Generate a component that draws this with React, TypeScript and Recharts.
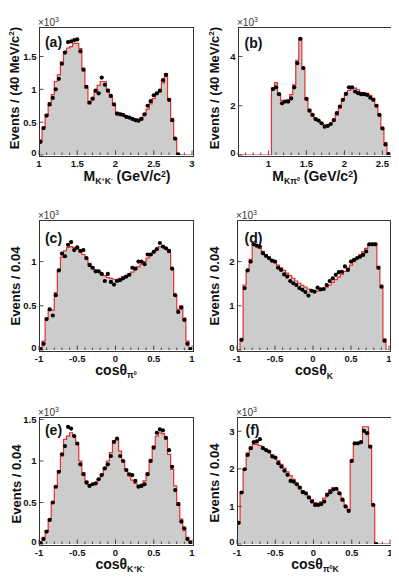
import React from "react";
import { ComposedChart, Area, Scatter, XAxis, YAxis } from "recharts";

// all values in units of 10^3 events, 0.04 wide bins
// (a) M(K+K-), bins from 1.00 GeV/c2
const fitA = [0.23, 0.42, 0.62, 0.8, 0.92, 1.12, 1.22, 1.42, 1.58, 1.63, 1.65, 1.7, 1.7, 1.62, 1.32, 1.02, 0.78, 0.84, 0.98, 1.06, 1.12, 1.12, 1.0, 0.88, 0.78, 0.65, 0.64, 0.62, 0.6, 0.58, 0.56, 0.54, 0.55, 0.57, 0.62, 0.7, 0.78, 0.86, 0.93, 0.96, 1.1, 1.24, 0.86, 0.56, 0.25];
const dataA = [0.2, 0.41, 0.6, 0.77, 0.87, 1.0, 1.16, 1.39, 1.56, 1.72, 1.73, 1.75, 1.76, 1.58, 1.3, 1.04, 0.8, 0.86, 0.98, 0.94, 1.18, 1.07, 0.98, 0.9, 0.77, 0.63, 0.62, 0.61, 0.58, 0.57, 0.55, 0.53, 0.52, 0.55, 0.62, 0.75, 0.82, 0.91, 0.94, 0.98, 1.14, 1.22, 0.84, 0.53, 0.25, 0.01];

// (b) M(K pi0), bins from 1.04 GeV/c2
const fitB = [2.72, 2.94, 2.45, 2.22, 2.2, 2.25, 2.45, 2.85, 3.85, 4.72, 3.5, 2.3, 1.85, 1.65, 1.5, 1.38, 1.3, 1.22, 1.2, 1.25, 1.38, 1.62, 1.9, 2.22, 2.48, 2.62, 2.7, 2.72, 2.65, 2.55, 2.52, 2.5, 2.42, 2.3, 2.05, 1.65, 1.1, 0.5, 0.08];
const dataB = [2.68, 2.75, 2.47, 2.1, 2.17, 2.17, 2.3, 2.75, 3.73, 4.72, 3.53, 2.28, 1.8, 1.63, 1.46, 1.4, 1.29, 1.15, 1.18, 1.26, 1.42, 1.7, 1.97, 2.24, 2.48, 2.75, 2.75, 2.58, 2.51, 2.47, 2.47, 2.44, 2.33, 2.24, 2.0, 1.63, 1.08, 0.43, 0.04];

// (c) cos theta pi0, bins from -1
const fitC = [0.02, 0.1, 0.36, 0.45, 0.45, 0.65, 0.9, 1.05, 1.12, 1.16, 1.17, 1.16, 1.14, 1.12, 1.08, 1.03, 0.98, 0.94, 0.91, 0.88, 0.86, 0.84, 0.82, 0.81, 0.8, 0.8, 0.81, 0.83, 0.84, 0.86, 0.88, 0.91, 0.94, 0.97, 1.0, 1.04, 1.07, 1.1, 1.14, 1.17, 1.17, 1.15, 1.1, 0.92, 0.62, 0.46, 0.5, 0.36, 0.1, 0.02];
const dataC = [0.01, 0.07, 0.35, 0.46, 0.39, 0.62, 0.9, 1.09, 1.06, 1.19, 1.22, 1.13, 1.16, 1.12, 1.13, 1.04, 0.96, 0.93, 0.89, 0.89, 0.86, 0.78, 0.86, 0.77, 0.74, 0.78, 0.79, 0.81, 0.83, 0.85, 0.93, 0.92, 1.0, 1.0, 0.97, 1.08, 1.08, 1.11, 1.14, 1.21, 1.17, 1.15, 1.12, 0.92, 0.62, 0.43, 0.48, 0.34, 0.07, 0.01];

// (d) cos theta K, fit from -1, points from -0.96
const fitD = [0, 0.25, 1.47, 1.8, 2.05, 2.4, 2.38, 2.3, 2.23, 2.16, 2.1, 2.04, 1.98, 1.92, 1.86, 1.8, 1.74, 1.68, 1.62, 1.56, 1.51, 1.46, 1.42, 1.38, 1.35, 1.33, 1.33, 1.35, 1.38, 1.42, 1.47, 1.53, 1.59, 1.65, 1.71, 1.78, 1.85, 1.92, 2.0, 2.07, 2.15, 2.22, 2.3, 2.38, 2.42, 2.42, 1.89, 1.47, 0.25, 0];
const dataD = [0.23, 1.4, 1.8, 2.0, 2.39, 2.36, 2.34, 2.19, 2.13, 2.08, 2.02, 2.0, 1.86, 1.81, 1.71, 1.66, 1.56, 1.51, 1.47, 1.4, 1.36, 1.31, 1.23, 1.34, 1.32, 1.41, 1.37, 1.38, 1.47, 1.56, 1.62, 1.7, 1.76, 1.77, 1.89, 1.81, 2.0, 2.04, 2.08, 2.11, 2.15, 2.23, 2.39, 2.39, 2.39, 1.86, 1.43, 0.21];

// (e) cos theta K+K-, bins from -1
const fitE = [0.02, 0.08, 0.16, 0.3, 0.5, 0.7, 0.88, 1.06, 1.26, 1.3, 1.34, 1.3, 1.2, 1.0, 0.86, 0.76, 0.71, 0.72, 0.74, 0.78, 0.84, 0.92, 1.0, 1.1, 1.24, 1.26, 1.12, 1.0, 0.9, 0.82, 0.77, 0.73, 0.71, 0.72, 0.76, 0.86, 1.02, 1.18, 1.3, 1.34, 1.33, 1.26, 1.08, 0.9, 0.7, 0.5, 0.3, 0.16, 0.08, 0.02];
const dataE = [0.01, 0.06, 0.15, 0.29, 0.5, 0.69, 0.87, 1.08, 1.18, 1.41, 1.39, 1.3, 1.21, 0.96, 0.84, 0.74, 0.7, 0.72, 0.73, 0.78, 0.83, 0.91, 0.96, 1.06, 1.23, 1.27, 1.06, 1.0, 0.89, 0.84, 0.83, 0.76, 0.69, 0.7, 0.72, 0.84, 1.0, 1.16, 1.34, 1.38, 1.37, 1.28, 1.13, 0.93, 0.65, 0.48, 0.27, 0.19, 0.06, 0.02];

// (f) cos theta pi0 K, bins from -1
const fitF = [0.55, 1.38, 2.0, 2.42, 2.58, 2.65, 2.65, 2.62, 2.55, 2.5, 2.44, 2.37, 2.3, 2.22, 2.12, 2.02, 1.92, 1.82, 1.72, 1.62, 1.52, 1.42, 1.34, 1.26, 1.18, 1.1, 1.08, 1.12, 1.22, 1.35, 1.45, 1.5, 1.45, 1.32, 1.15, 1.0, 0.92, 2.22, 2.68, 2.7, 2.72, 3.12, 3.12, 2.62, 1.05];
const dataF = [0.56, 1.37, 1.99, 2.37, 2.55, 2.71, 2.73, 2.79, 2.55, 2.5, 2.46, 2.33, 2.3, 2.15, 2.06, 1.95, 1.84, 1.68, 1.66, 1.59, 1.5, 1.38, 1.35, 1.24, 1.13, 1.04, 1.04, 1.06, 1.13, 1.31, 1.38, 1.45, 1.47, 1.35, 1.18, 1.0, 0.88, 2.21, 2.68, 2.68, 2.71, 3.01, 2.95, 2.59, 1.04, 0.0];

const BW = 0.04;
const RED = "#e8302c";
const FONT = '"Liberation Sans", Arial, Helvetica, sans-serif';

// bin edges over the whole axis range, step histogram
function histRows(start: number, vals: number[], lo: number, hi: number) {
  const n = Math.round((hi - lo) / BW);
  const rows = [];
  for (let i = 0; i <= n; i++) {
    const x = +(lo + i * BW).toFixed(4);
    const k = Math.round((x - start) / BW);
    rows.push({ x, h: i < n && k >= 0 && k < vals.length ? vals[k] : 0 });
  }
  return rows;
}

function pointRows(start: number, vals: number[]) {
  return vals.map((y, i) => ({ x: +(start + (i + 0.5) * BW).toFixed(4), y }));
}

const fmt = (v: number) => String(+v.toFixed(2));

type PanelProps = {
  box: number[];
  lo: number;
  hi: number;
  ymax: number;
  yTicks: number[];
  hist: { x: number; h: number }[];
  pts: { x: number; y: number }[];
};

function Panel({ box, lo, hi, ymax, yTicks, hist, pts }: PanelProps) {
  const [L, T, R, B] = box;
  const pw = R - L;
  const ph = B - T;
  const ML = 30, MT = 8, MR = 6, MB = 22;
  const bottom = MT + ph;

  const xTicks: number[] = [];
  for (let v = Math.ceil(lo * 10 - 1e-6); v <= hi * 10 + 1e-6; v++) xTicks.push(+(v / 10).toFixed(2));
  const isMajor = (v: number) => Math.abs(v * 2 - Math.round(v * 2)) < 1e-6;

  const xTick = (p: any) => {
    const v = p.payload.value;
    const major = isMajor(v);
    return (
      <g>
        <line x1={p.x} x2={p.x} y1={bottom} y2={bottom - (major ? 4.5 : 2.5)} stroke="#222" strokeWidth={0.8} />
        {major && (
          <text x={p.x} y={bottom + 8} textAnchor="middle" dominantBaseline="central" fontSize={9.5} fontWeight="bold" fontFamily={FONT} fill="#111">
            {fmt(v)}
          </text>
        )}
      </g>
    );
  };

  const yTick = (p: any) => {
    const v = p.payload.value;
    return (
      <g>
        <line x1={ML} x2={ML + 4.5} y1={p.y} y2={p.y} stroke="#222" strokeWidth={0.8} />
        <text x={ML - 2.5} y={v === 0 ? p.y - 2.5 : p.y} textAnchor="end" dominantBaseline="central" fontSize={9.5} fontWeight="bold" fontFamily={FONT} fill="#111">
          {fmt(v)}
        </text>
      </g>
    );
  };

  return (
    <>
      <div style={{ position: "absolute", left: L - ML, top: T - MT }}>
        <ComposedChart width={pw + ML + MR} height={ph + MT + MB} data={hist} margin={{ top: MT, right: MR, left: 0, bottom: 0 }}>
          <XAxis dataKey="x" type="number" domain={[lo, hi]} ticks={xTicks} interval={0} allowDataOverflow height={MB} axisLine={false} tickLine={false} tick={xTick} />
          <YAxis type="number" domain={[0, ymax]} ticks={yTicks} interval={0} allowDataOverflow width={ML} axisLine={false} tickLine={false} tick={yTick} />
          <Area type="stepAfter" dataKey="h" stroke={RED} strokeWidth={1.2} fill="#cccccc" fillOpacity={1} dot={false} activeDot={false} isAnimationActive={false} />
          <Scatter data={pts} dataKey="y" isAnimationActive={false} shape={(s: any) => <circle cx={s.cx} cy={s.cy} r={2.1} fill="#000" />} />
        </ComposedChart>
      </div>
      {/* frame */}
      <div style={{ position: "absolute", left: L - 0.5, top: T - 0.5, width: pw, height: ph, border: "1px solid #333", pointerEvents: "none" }} />
    </>
  );
}

const subS: React.CSSProperties = { fontSize: "0.62em", verticalAlign: "-0.4em" };
const supS: React.CSSProperties = { fontSize: "0.62em", verticalAlign: "0.55em" };

function At({ x, y, rot, size, weight, children }: any) {
  return (
    <div
      style={{
        position: "absolute",
        left: x,
        top: y,
        transform: `translate(-50%,-50%)${rot ? " rotate(-90deg)" : ""}`,
        fontSize: size,
        fontWeight: weight ?? "bold",
        whiteSpace: "nowrap",
        lineHeight: 1,
        fontFamily: FONT,
        color: "#111",
      }}
    >
      {children}
    </div>
  );
}

const Exp = ({ x, y }: { x: number; y: number }) => (
  <div style={{ position: "absolute", left: x, top: y, fontSize: 10, lineHeight: 1, fontFamily: FONT, color: "#333", whiteSpace: "nowrap" }}>
    ×10<span style={{ fontSize: 7, verticalAlign: "0.5em" }}>3</span>
  </div>
);

const mevTitle = (
  <span>
    Events / (40 MeV/c<span style={supS}>2</span>)
  </span>
);

export default function App() {
  return (
    <div style={{ position: "relative", width: 399, height: 583, margin: "-8px 0 0 -8px", background: "#fff", overflow: "hidden" }}>
      <Panel box={[39, 27, 192, 155]} lo={1} hi={3} ymax={1.95} yTicks={[0, 0.5, 1, 1.5]} hist={histRows(1.0, fitA, 1, 3)} pts={pointRows(1.0, dataA)} />
      <Panel box={[238, 27, 390, 155]} lo={0.6} hi={2.6} ymax={5.2} yTicks={[0, 2, 4]} hist={histRows(1.04, fitB, 0.6, 2.6)} pts={pointRows(1.04, dataB)} />
      <Panel box={[39, 220, 192, 350]} lo={-1} hi={1} ymax={1.47} yTicks={[0, 0.5, 1]} hist={histRows(-1, fitC, -1, 1)} pts={pointRows(-1, dataC)} />
      <Panel box={[237, 220, 389, 350]} lo={-1} hi={1} ymax={2.94} yTicks={[0, 1, 2]} hist={histRows(-1, fitD, -1, 1)} pts={pointRows(-0.96, dataD)} />
      <Panel box={[39, 417, 192, 544]} lo={-1} hi={1} ymax={1.53} yTicks={[0, 0.5, 1, 1.5]} hist={histRows(-1, fitE, -1, 1)} pts={pointRows(-1, dataE)} />
      <Panel box={[237, 417, 390, 544]} lo={-1} hi={1} ymax={3.38} yTicks={[0, 1, 2, 3]} hist={histRows(-1, fitF, -1, 1)} pts={pointRows(-1, dataF)} />

      <Exp x={38} y={16} />
      <Exp x={237} y={16} />
      <Exp x={38} y={209} />
      <Exp x={236} y={209} />
      <Exp x={38} y={406} />
      <Exp x={236} y={406} />

      <At x={53.5} y={42} size={14}>(a)</At>
      <At x={253.5} y={43} size={14}>(b)</At>
      <At x={53.5} y={237.5} size={14}>(c)</At>
      <At x={253.5} y={237.5} size={14}>(d)</At>
      <At x={53.5} y={430} size={14}>(e)</At>
      <At x={252.5} y={430} size={14}>(f)</At>

      <At x={14} y={88} size={13} rot>{mevTitle}</At>
      <At x={214} y={88} size={13} rot>{mevTitle}</At>
      <At x={15} y={286} size={13} rot>Events / 0.04</At>
      <At x={213.5} y={286} size={13} rot>Events / 0.04</At>
      <At x={16} y={484} size={13} rot>Events / 0.04</At>
      <At x={214} y={483} size={13} rot>Events / 0.04</At>

      <At x={127} y={178} size={14}>
        M<span style={subS}>K<span style={supS}>+</span>K<span style={supS}>-</span></span> (GeV/c<span style={supS}>2</span>)
      </At>
      <At x={315} y={178} size={14}>
        M<span style={subS}>Kπ<span style={supS}>0</span></span> (GeV/c<span style={supS}>2</span>)
      </At>
      <At x={116} y={372} size={14}>
        cosθ<span style={subS}>π<span style={supS}>0</span></span>
      </At>
      <At x={314} y={372} size={14}>
        cosθ<span style={subS}>K</span>
      </At>
      <At x={120} y={566} size={14}>
        cosθ<span style={subS}>K<span style={supS}>+</span>K<span style={supS}>-</span></span>
      </At>
      <At x={315} y={566} size={14}>
        cosθ<span style={subS}>π<span style={supS}>0</span>K</span>
      </At>
    </div>
  );
}
